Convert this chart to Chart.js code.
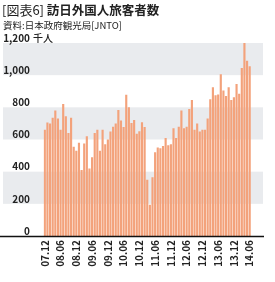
<!DOCTYPE html>
<html><head><meta charset="utf-8">
<script src="https://cdn.jsdelivr.net/npm/chart.js@4/dist/chart.umd.min.js"></script>
<style>
html,body{margin:0;padding:0;background:#fff;width:275px;height:282px;overflow:hidden;}
#wrap{position:relative;width:275px;height:282px;}
canvas{position:absolute;left:0;top:0;}
.t{position:absolute;left:2px;top:2px;font-family:"Noto Sans CJK JP";color:#222;white-space:nowrap;font-size:12.5px;line-height:16px;}
.t .r{font-weight:400;font-size:13px;}
.t .b{font-weight:700;}
.s{position:absolute;left:3px;top:19px;font-family:"Noto Sans CJK JP";color:#222;white-space:nowrap;font-size:9.5px;line-height:12px;}
</style></head>
<body><div id="wrap">
<canvas id="c" width="275" height="282"></canvas>
<div class="t"><span class="r">[図表6]</span> <span class="b">訪日外国人旅客者数</span></div>
<div class="s">資料:日本政府観光局[JNTO]</div>
</div>
<script>
// monthly visitor arrivals, thousand persons, 2007.12 - 2014.06
const startYear = 2007, startMonth = 12;
const visitors = [
  660,
  705,700,735,780,730,660,820,745,640,735,555,530,
  580,410,575,620,420,490,640,660,530,660,570,600,
  650,680,700,784,718,677,879,800,702,722,635,652,
  708,677,350,195,365,520,550,545,560,610,565,570,
  670,610,680,780,670,680,790,845,660,700,650,660,
  660,730,850,925,875,880,1005,905,870,925,845,862,
  945,885,1045,1230,1090,1055
];
const tickLabels = ["07.12","08.06","08.12","09.06","09.12","10.06","10.12","11.06","11.12","12.06","12.12","13.06","13.12","14.06"];
const yTicks = [0,200,400,600,800,1000,1200];
const unitLabel = "千人";

const months = [];
{
  let y = startYear, m = startMonth;
  for (let i = 0; i < visitors.length; i++) {
    months.push(String(y % 100).padStart(2,"0") + "." + String(m).padStart(2,"0"));
    m++; if (m > 12) { m = 1; y++; }
  }
}

const fmt = v => v.toLocaleString("en-US");

const decor = {
  id: "decor",
  beforeDraw(chart) {
    const ctx = chart.ctx, ys = chart.scales.y;
    ctx.save();
    ctx.fillStyle = "#e9ebee";
    [[200,400],[600,800],[1000,1200]].forEach(([a,b]) => {
      const y1 = ys.getPixelForValue(b), y2 = ys.getPixelForValue(a);
      ctx.fillRect(3, y1, 260, y2 - y1);
    });
    ctx.restore();
  },
  afterDraw(chart) {
    const ctx = chart.ctx, ys = chart.scales.y;
    ctx.save();
    const y0 = ys.getPixelForValue(0);
    ctx.strokeStyle = "#111";
    ctx.lineWidth = 1.5;
    ctx.beginPath(); ctx.moveTo(0, y0 + 0.5); ctx.lineTo(264, y0 + 0.5); ctx.stroke();
    ctx.fillStyle = "#222";
    ctx.font = "500 10px 'Noto Sans CJK JP'";
    ctx.textBaseline = "middle";
    ctx.textAlign = "left";
    ctx.fillText(unitLabel, 33, ys.getPixelForValue(1200) - 5);
    ctx.restore();
  }
};

new Chart(document.getElementById("c"), {
  type: "bar",
  data: {
    labels: months,
    datasets: [{
      data: visitors,
      backgroundColor: "#f3a27b",
      borderWidth: 0,
      barPercentage: 0.82,
      categoryPercentage: 1.0
    }]
  },
  options: {
    responsive: false,
    animation: false,
    devicePixelRatio: 1,
    layout: { padding: { left: 0, right: 24, top: 43, bottom: 0 } },
    plugins: { legend: { display: false }, tooltip: { enabled: false } },
    scales: {
      x: {
        grid: { display: false, drawTicks: false },
        border: { display: false },
        afterFit(s) { s.height = 46; },
        ticks: {
          autoSkip: false,
          maxRotation: 90, minRotation: 90,
          padding: 4,
          color: "#222",
          font: { family: "'Noto Sans CJK JP'", size: 10, weight: "bold" },
          callback(v) { const l = months[v]; return tickLabels.includes(l) ? l : ""; }
        }
      },
      y: {
        min: 0, max: 1200,
        grid: { display: false, drawTicks: false },
        border: { display: false },
        afterFit(s) { s.width = 43.5; },
        afterBuildTicks(s) { s.ticks = yTicks.map(v => ({ value: v })); },
        ticks: {
          autoSkip: false,
          padding: 13.5,
          labelOffset: -5,
          color: "#222",
          font: { family: "'Noto Sans CJK JP'", size: 10, weight: "bold" },
          callback(v) { return fmt(v); }
        }
      }
    }
  },
  plugins: [decor]
});
</script>
</body></html>
